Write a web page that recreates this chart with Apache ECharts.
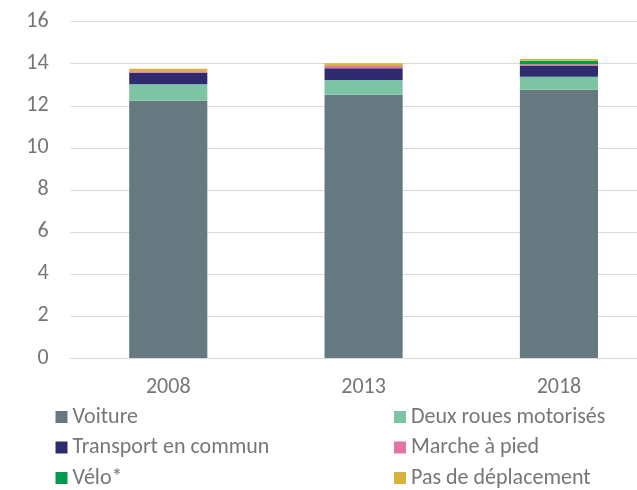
<!DOCTYPE html>
<html>
<head>
<meta charset="utf-8">
<script src="https://cdn.jsdelivr.net/npm/echarts@6/dist/echarts.min.js"></script>
<style>
  html, body { margin: 0; padding: 0; background: #fff; overflow: hidden; }
  #wrap { width: 637px; height: 490px; overflow: hidden; }
  /* the plot runs past the right edge of the view, so the canvas is wider than the frame */
  #chart { width: 660px; height: 490px; }
</style>
</head>
<body>
<div id="wrap"><div id="chart"></div></div>
<script>
// Years on the category axis
const years = ['2008', '2013', '2018'];

// Stacked values per mode of transport (bottom to top)
const voiture = [12.24, 12.53, 12.76];
const deuxRoues = [0.78, 0.70, 0.62];
const transport = [0.55, 0.55, 0.51];
const marche = [0.07, 0.11, 0.08];
const velo = [0, 0, 0.17];
const pasDeplacement = [0.12, 0.13, 0.08];

// Y axis ticks
const yTicks = [0, 2, 4, 6, 8, 10, 12, 14, 16];

const names = ['Voiture', 'Deux roues motorisés', 'Transport en commun', 'Marche à pied', 'Vélo*', 'Pas de déplacement'];
const values = [voiture, deuxRoues, transport, marche, velo, pasDeplacement];
const colors = ['#667980', '#7cc4a4', '#2e2c6e', '#e273a4', '#009a4e', '#d6b43c'];

const textColor = '#767676';
const fontFamily = 'Carlito, Calibri, "Liberation Sans", sans-serif';

const chart = echarts.init(document.getElementById('chart'), null, { renderer: 'canvas' });

const legendCommon = {
  orient: 'vertical',
  top: 406,
  padding: 0,
  itemWidth: 12,
  itemHeight: 12,
  itemGap: 8.5,
  icon: 'rect',
  selectedMode: false,
  textStyle: { color: textColor, fontSize: 22, fontFamily: fontFamily, lineHeight: 22 }
};

chart.setOption({
  animation: false,
  color: colors,
  grid: { left: 70.6, top: 21.7, width: 586, height: 336.3, containLabel: false },
  legend: [
    Object.assign({}, legendCommon, { left: 55.5, data: ['Voiture', 'Transport en commun', 'Vélo*'] }),
    Object.assign({}, legendCommon, { left: 394, data: ['Deux roues motorisés', 'Marche à pied', 'Pas de déplacement'] })
  ],
  xAxis: {
    type: 'category',
    data: years,
    axisLine: { lineStyle: { color: '#d9d9d9', width: 1 } },
    axisTick: { show: false },
    axisLabel: { color: textColor, fontSize: 22, fontFamily: fontFamily, margin: 18 }
  },
  yAxis: {
    type: 'value',
    min: yTicks[0],
    max: yTicks[yTicks.length - 1],
    interval: yTicks[1] - yTicks[0],
    axisLine: { show: false },
    axisTick: { show: false },
    splitLine: { lineStyle: { color: '#d9d9d9', width: 1 } },
    axisLabel: { color: textColor, fontSize: 22, fontFamily: fontFamily, margin: 22 }
  },
  series: names.map((n, i) => ({
    name: n,
    type: 'bar',
    stack: 'total',
    data: values[i],
    barWidth: '40%',
    itemStyle: { color: colors[i] }
  }))
});
</script>
</body>
</html>
